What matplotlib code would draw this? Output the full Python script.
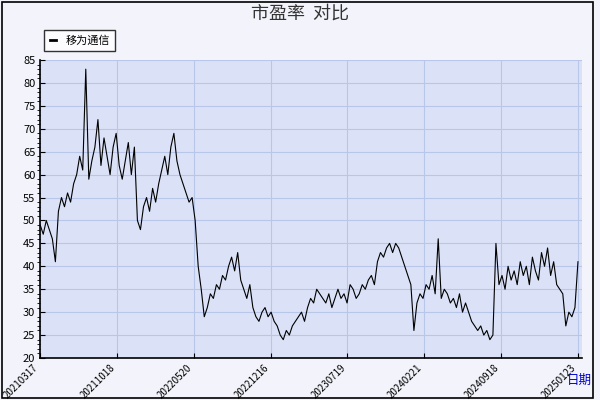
import matplotlib.pyplot as plt
import numpy as np

plt.rcParams['font.family'] = ['Noto Sans CJK SC', 'DejaVu Sans']

# approximate PE series, one value per step of trading days
pe_values = [
    49, 47, 50, 48, 46, 41, 52, 55, 53, 56, 54, 58, 60, 64, 61, 83, 59, 63, 66, 72,
    62, 68, 64, 60, 66, 69, 62, 59, 63, 67, 60, 66, 50, 48, 53, 55, 52, 57, 54, 58,
    61, 64, 60, 66, 69, 63, 60, 58, 56, 54, 55, 50, 40, 35, 29, 31, 34, 33,
    36, 35, 38, 37, 40, 42, 39, 43, 37, 35, 33, 36, 31, 29, 28, 30, 31, 29, 30, 28,
    27, 25, 24, 26, 25, 27, 28, 29, 30, 28, 31, 33, 32, 35, 34, 33, 32, 34, 31, 33,
    35, 33, 34, 32, 36, 35, 33, 34, 36, 35, 37, 38, 36, 41, 43, 42, 44, 45, 43, 45,
    44, 42, 40, 38, 36, 26, 32, 34, 33, 36, 35, 38, 34, 46, 33, 35, 34, 32, 33, 31,
    34, 30, 32, 30, 28, 27, 26, 27, 25, 26, 24, 25, 45, 36, 38, 35, 40, 37, 39, 36,
    41, 38, 40, 36, 42, 39, 37, 43, 40, 44, 38, 41, 36, 35, 34, 27, 30, 29, 31, 41,
]
tick_labels = ['20210317', '20211018', '20220520', '20221216', '20230719',
               '20240221', '20240918', '20250123']

x = np.arange(len(pe_values))
last = len(pe_values) - 1

fig = plt.figure(figsize=(6, 4), dpi=100, facecolor='#f3f4fb')
ax = fig.add_axes([0.067, 0.105, 0.903, 0.745], facecolor='#dbe2f7')
ax.plot(x, pe_values, color='black', lw=0.8, label='移为通信')

ax.set_ylim(20, 85)
ax.set_yticks(range(20, 86, 5))
ax.set_xlim(0, last * 1.0075)
ax.set_xticks(np.linspace(0, last, len(tick_labels)))
ax.set_xticklabels(tick_labels, rotation=45, ha='right', fontsize=7)
ax.yaxis.set_minor_locator(plt.MultipleLocator(1))
ax.tick_params(axis='y', labelsize=8, direction='in')
ax.tick_params(axis='x', direction='in')
ax.grid(True, color='#b8c6ea', lw=0.8)
for s in ['top', 'right']:
    ax.spines[s].set_visible(False)
ax.spines['left'].set_linewidth(1.2)
ax.spines['bottom'].set_linewidth(1.2)

fig.text(0.5, 0.965, '市盈率  对比', ha='center', va='center', fontsize=13, color='#333333')
fig.text(0.965, 0.05, '日期', ha='center', va='center', fontsize=9, color='#0000cc')
leg = ax.legend(loc='lower left', bbox_to_anchor=(-0.003, 1.01), fontsize=8,
                fancybox=False, edgecolor='black', handlelength=0.6, borderpad=0.5)
leg.get_frame().set_linewidth(1)
for h in leg.get_lines():
    h.set_linewidth(2)

fig.patches.append(plt.Rectangle((0.003, 0.005), 0.985, 0.99, transform=fig.transFigure,
                                 fill=False, edgecolor='black', lw=1.2))
fig.savefig('out.png', dpi=100, facecolor=fig.get_facecolor())
